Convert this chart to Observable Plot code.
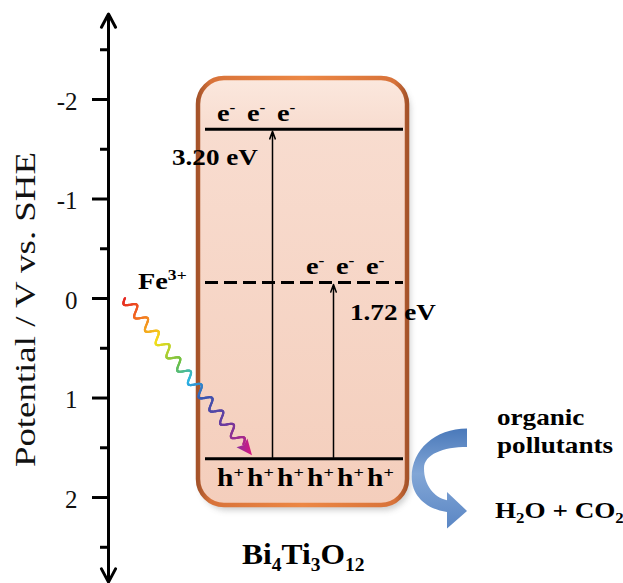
<!DOCTYPE html>
<html><head><meta charset="utf-8">
<script src="https://cdn.jsdelivr.net/npm/d3@7"></script>
<script src="https://cdn.jsdelivr.net/npm/@observablehq/plot@0.6"></script>
<style>body{margin:0;background:#fff}#chart svg{display:block;background:#fff}</style>
</head><body><div id="chart"></div>
<script>
// ---------------- data ----------------
const majorTicks = [-2, -1, 0, 1, 2];
const tickLabels = ["-2", "-1", "0", "1", "2"];
const minorTicks = [-2.5, -1.5, -0.5, 0.5, 1.5, 2.5];
const axisEnds = [-2.86, 2.85];
const levelNames = ["CB", "Fe", "VB"];
const levelPotentials = [-1.70, -0.16, 1.61];
const gapFrom = ["VB", "VB"];
const gapTo = ["CB", "Fe"];
const gapLabels = ["3.20 eV", "1.72 eV"];
const axisTitle = "Potential / V vs. SHE";
const electronLabel = [["e"], ["-", "sup"]];
const holeLabel = [["h"], ["+", "sup"]];
const carrierCounts = {CB: 3, Fe: 3, VB: 6};
const feLabel = [["Fe"], ["3+", "sup"]];
const catalystLabel = [["Bi"], ["4", "sub"], ["Ti"], ["3", "sub"], ["O"], ["12", "sub"]];
const pollutantLines = ["organic", "pollutants"];
const productLabel = [["H"], ["2", "sub"], ["O + CO"], ["2", "sub"]];
const rainbowStops = [0, 0.12, 0.27, 0.42, 0.52, 0.63, 0.8, 1];
const rainbowColors = ["#e52521", "#f37021", "#f4df1c", "#6cbf45", "#2cb5e5", "#3a55b0", "#6c3b9e", "#d6197f"];

// ---------------- layout ----------------
const W = 623, H = 583;
const serif = "Liberation Serif, Times New Roman, serif";
const levels = levelNames.map((name, i) => ({name, potential: levelPotentials[i]}));
const P = Object.fromEntries(levels.map(d => [d.name, d.potential]));
const gaps = gapFrom.map((f, i) => ({from: f, to: gapTo[i], label: gapLabels[i], x: [272, 333][i]}));
const box = {x1: 198, x2: 407, y1: -2.21, y2: 2.08, r: 26};

function rich(g, px, py, parts, size, opts = {}) {
  const {weight = "bold", sx = 1.18, anchor = "start"} = opts;
  const t = g.append("text")
    .attr("transform", `translate(${px},${py}) scale(${sx},1)`)
    .attr("font-family", serif).attr("font-size", size)
    .attr("font-weight", weight).attr("text-anchor", anchor).attr("fill", "#000");
  let cur = 0;
  for (const [s, kind] of parts) {
    const off = kind === "sup" ? -0.36 * size : kind === "sub" ? 0.22 * size : 0;
    const ts = t.append("tspan").attr("dy", off - cur).text(s);
    if (kind) ts.attr("font-size", size * 0.62);
    cur = off;
  }
  return t;
}

function defsMark() {
  const defs = d3.create("svg:defs");
  const lg = (id, horiz, stops) => {
    const gr = defs.append("linearGradient").attr("id", id)
      .attr("x1", 0).attr("y1", 0).attr("x2", horiz ? 1 : 0).attr("y2", horiz ? 0 : 1);
    for (const [o, c] of stops) gr.append("stop").attr("offset", o).attr("stop-color", c);
  };
  lg("boxFill", false, [[0, "#fbe8de"], [0.12, "#f8dccf"], [1, "#f4cebc"]]);
  lg("boxStroke", true, [[0, "#a5532a"], [0.06, "#d8733a"], [0.5, "#ec8744"], [0.94, "#d8733a"], [1, "#a5532a"]]);
  lg("blueFill", false, [[0, "#4a79ba"], [0.45, "#82a6d6"], [1, "#5a86c4"]]);
  lg("headFill", true, [[0, "#8a2fa0"], [1, "#d8177e"]]);
  const f = defs.append("filter").attr("id", "blur").attr("x", "-20%").attr("y", "-20%").attr("width", "140%").attr("height", "140%");
  f.append("feGaussianBlur").attr("stdDeviation", 3);
  return defs.node();
}

function shadowMark(index, {x, y}) {
  return d3.create("svg:rect")
    .attr("x", x(box.x1) + 3).attr("y", y(box.y1) + 5)
    .attr("width", x(box.x2) - x(box.x1)).attr("height", y(box.y2) - y(box.y1))
    .attr("rx", box.r).attr("fill", "#888").attr("opacity", 0.45).attr("filter", "url(#blur)").node();
}

function decorations(index, {x, y}) {
  const g = d3.create("svg:g");
  // carriers
  const rows = [{lvl: "CB", x0: 217, base: -1.779, lab: electronLabel, size: 24},
                {lvl: "Fe", x0: 306, base: -0.241, lab: electronLabel, size: 24},
                {lvl: "VB", x0: 217, base: 1.889, lab: holeLabel, size: 25}];
  for (const r of rows) for (let i = 0; i < carrierCounts[r.lvl]; i++)
    rich(g, x(r.x0 + 30 * i), y(r.base), r.lab, r.size);
  // gap labels
  rich(g, x(172), y(-1.337), [[gaps[0].label]], 23);
  rich(g, x(350), y(0.221), [[gaps[1].label]], 23);
  // Fe3+
  rich(g, x(138), y(-0.090), feLabel, 24);
  // catalyst name
  rich(g, x(242), y(2.673), catalystLabel, 30, {sx: 1.05});
  // pollutants
  pollutantLines.forEach((s, i) => rich(g, x(497), y([1.276, 1.558][i]), [[s]], 23));
  rich(g, x(495), y(2.211), productLabel, 23);
  // axis title
  g.append("text").attr("transform", `translate(${x(35)},${y(0.116)}) rotate(-90)`)
    .attr("text-anchor", "middle").attr("font-family", serif).attr("font-size", 30)
    .attr("textLength", 315).attr("lengthAdjust", "spacingAndGlyphs").attr("fill", "#111").text(axisTitle);

  // rainbow wavy arrow (Fe3+ excitation)
  const S = [x(125), y(0)], E = [x(252), y(1.58)];
  const dx = E[0] - S[0], dy = E[1] - S[1], len = Math.hypot(dx, dy);
  const ux = dx / len, uy = dy / len, px = -uy, py = ux;
  const head = 16, wl = len - head + 2;
  const col = d3.scaleLinear().domain(rainbowStops).range(rainbowColors);
  const n = 360, periods = 11, A = 5;
  let prev = null;
  for (let k = 0; k <= n; k++) {
    const t = k / n, s = t * wl, w = A * Math.sin(2 * Math.PI * periods * t);
    const pt = [S[0] + ux * s + px * w, S[1] + uy * s + py * w];
    if (prev) g.append("line").attr("x1", prev[0]).attr("y1", prev[1]).attr("x2", pt[0]).attr("y2", pt[1])
      .attr("stroke", col(t * 0.93)).attr("stroke-width", 2.2).attr("stroke-linecap", "round");
    prev = pt;
  }
  const b = [E[0] - ux * head, E[1] - uy * head];
  g.append("path").attr("d", `M${E[0]},${E[1]}L${b[0] + px * 7},${b[1] + py * 7}L${b[0] + ux * 3},${b[1] + uy * 3}L${b[0] - px * 7},${b[1] - py * 7}Z`)
    .attr("fill", "url(#headFill)");

  // blue curved arrow
  const ax = x(467), ay = y(1.61);
  g.append("path").attr("transform", `translate(${ax},${ay})`)
    .attr("d", "M0,-29.7 C-32,-29.7 -55.3,-8 -55.3,18.7 C-55.3,38 -40,51 -20,53.7 L-20,70.3 L0,52.7 L-20,33.7 L-20,42 C-33,39 -43,27 -43,10 C-43,-4 -24,-11.3 0,-11.3 Z")
    .attr("fill", "url(#blueFill)");
  return g.node();
}

const chart = Plot.plot({
  width: W, height: H,
  marginTop: 0, marginRight: 0, marginBottom: 0, marginLeft: 0,
  x: {domain: [0, W], range: [0, W], axis: null},
  y: {domain: [-2.995, 2.864], range: [0, H], axis: null},
  style: {background: "#fff"},
  marks: [
    defsMark,
    shadowMark,
    Plot.rect([box], {x1: box.x1, x2: box.x2, y1: box.y1, y2: box.y2, rx: box.r,
      fill: "url(#boxFill)", stroke: "url(#boxStroke)", strokeWidth: 4.5}),
    Plot.ruleY(levels.filter(d => d.name !== "Fe"), {y: "potential", x1: 205, x2: 403, stroke: "#000", strokeWidth: 3}),
    Plot.ruleY(levels.filter(d => d.name === "Fe"), {y: "potential", x1: 205, x2: 403, stroke: "#000", strokeWidth: 3, strokeDasharray: "13,6"}),
    Plot.arrow(gaps, {x1: "x", x2: "x", y1: d => P[d.from], y2: d => P[d.to], stroke: "#000",
      strokeWidth: 1.5, headLength: 8, headAngle: 40, insetStart: 1.5, insetEnd: 2}),
    Plot.arrow(axisEnds, {x1: 108, x2: 108, y1: 0, y2: d => d, stroke: "#000", strokeWidth: 3, headLength: 7.5, headAngle: 56}),
    Plot.ruleY(majorTicks, {y: d => d, x1: 92, x2: 108, stroke: "#000", strokeWidth: 3}),
    Plot.ruleY(minorTicks, {y: d => d, x1: 100, x2: 108, stroke: "#000", strokeWidth: 3}),
    Plot.text(majorTicks, {y: d => d, x: 77, text: (d, i) => tickLabels[i], textAnchor: "end",
      fontSize: 25, fontFamily: serif, fill: "#111", dy: 2}),
    decorations
  ]
});
document.getElementById("chart").appendChild(chart);
</script>
</body></html>
